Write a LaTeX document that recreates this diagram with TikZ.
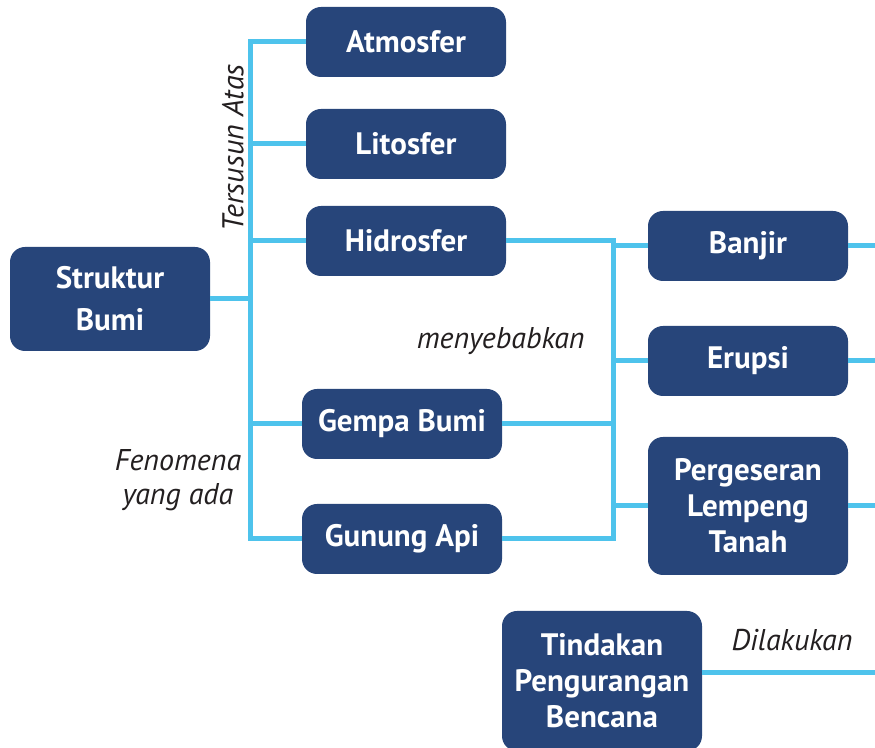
\documentclass[tikz,border=0pt]{standalone}
\usepackage{fontspec}
\setmainfont{PT Sans}
\usepackage{tikz}
\usetikzlibrary{calc}
\definecolor{boxblue}{HTML}{27457A}
\definecolor{linkblue}{HTML}{4EC3EC}
\definecolor{txtgray}{HTML}{231F20}
\tikzset{
  box/.style={fill=boxblue, text=white, rounded corners=7.5pt, font=\fontsize{15.5}{18}\selectfont\bfseries,
    minimum width=100pt, minimum height=35pt, align=center, inner sep=2pt},
  link/.style={draw=linkblue, line width=2.5pt},
  lbl/.style={text=txtgray, font=\fontsize{15}{17}\selectfont\itshape, inner sep=0pt}
}
\begin{document}
\begin{tikzpicture}[x=0.5pt,y=-0.5pt]
        \useasboundingbox (0,0) rectangle (875,748);

        % junctions
        \coordinate (lb) at (250,539); % foot of left trunk
        \coordinate (rt) at (613,241);
        \coordinate (rb) at (613,539);
        \coordinate (edge) at (885,0);

        % boxes
        \node[box, minimum height=52pt] (str) at (110,299) {Struktur\\[3pt]Bumi};
        \node[box] (atm) at (406,42) {Atmosfer};
        \node[box] (lit) at (406,144) {Litosfer};
        \node[box] (hid) at (406,241) {Hidrosfer};
        \node[box] (gem) at (402,424) {Gempa Bumi};
        \node[box] (gun) at (402,539) {Gunung Api};

        \node[box] (ban) at (748,246) {Banjir};
        \node[box] (eru) at (748,361) {Erupsi};
        \node[box, minimum height=69pt] (per) at (748,506) {Pergeseran\\Lempeng\\Tanah};
        \node[box, minimum height=70pt] (tin) at (602,681) {Tindakan\\Pengurangan\\Bencana};

        % connectors under the boxes
        \begin{scope}[on background layer/.try]
        \draw[link] (atm.west) -| (lb) -- (gun.west);
        \draw[link] (lit.west) -- (lit.west -| lb);
        \draw[link] (hid.west) -- (hid.west -| lb);
        \draw[link] (gem.west) -- (gem.west -| lb);
        \draw[link] (str.east) -- (str.east -| lb);

        \draw[link] (hid.east) -- (rt) -- (rb) -- (gun.east);
        \draw[link] (gem.east) -- (gem.east -| rt);
        \draw[link] (ban.west -| rt) -- (ban.west);
        \draw[link] (eru.west -| rt) -- (eru.west);
        \draw[link] (per.west -| rt) -- (per.west);

        \draw[link] (ban.east) -- (ban.east -| edge);
        \draw[link] (eru.east) -- (eru.east -| edge);
        \draw[link] (per.east) -- (per.east -| edge);
        \draw[link] ([yshift=4pt]tin.east) -- ([yshift=4pt]tin.east -| edge);
        \end{scope}

        \node[lbl, rotate=90] (tsa) at (233,148) {Tersusun Atas};
        \node[lbl, anchor=east] (sebab) at (585,341) {menyebabkan};
        \node[lbl, align=center] (feno) at (178,480) {Fenomena\\yang ada};
        \node[lbl] (laku) at (792,640) {Dilakukan};
    \end{tikzpicture}
\end{document}
